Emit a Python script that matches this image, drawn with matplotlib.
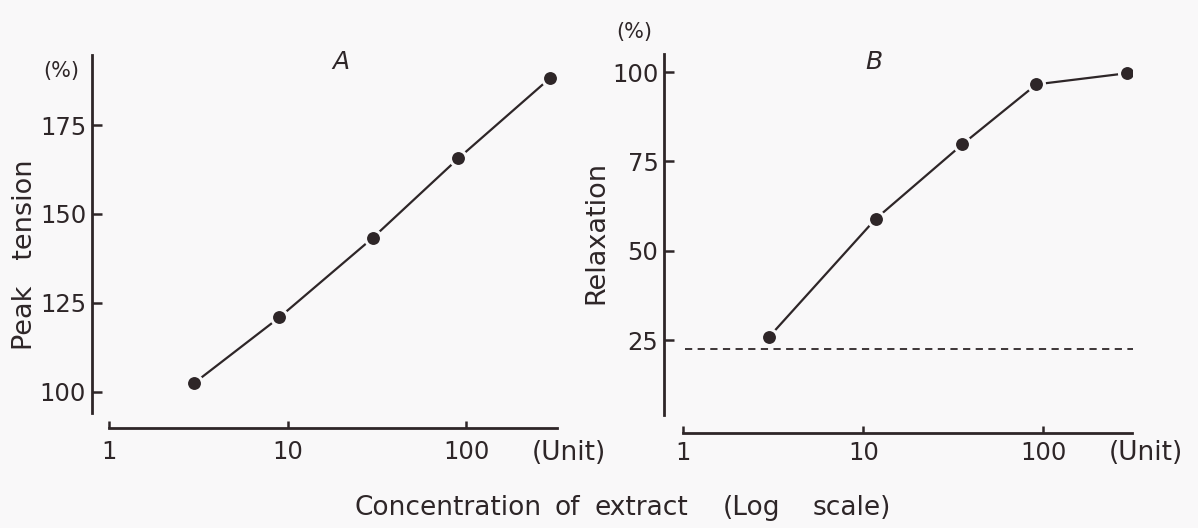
import matplotlib
matplotlib.use("Agg")
import matplotlib.pyplot as plt

# Panel A: peak tension vs. extract concentration
conc_a = [3, 9, 30, 90, 295]
tension = [102.4, 120.9, 143.3, 165.6, 188.3]
ticks_a = [100, 125, 150, 175]

# Panel B: relaxation vs. extract concentration
conc_b = [3, 11.7, 35.5, 91.5, 290]
relax = [25.9, 58.9, 79.8, 96.6, 99.7]
ticks_b = [25, 50, 75, 100]
baseline_b = 22.5

xticks = [1, 10, 100]
xticklabels = ["1", "10", "100"]
xlabel_words = ["Concentration", "of", "extract", "(Log", "scale)"]
xlabel_pos = [355, 554, 594, 723, 813]

ink = "#2e2628"
paper = "#f9f8f9"
plt.rcParams["font.family"] = ["DejaVu Sans"]

W, H = 1198, 528
fig = plt.figure(figsize=(W / 100, H / 100), dpi=100, facecolor=paper)


def px_axes(x0, x1, y0, y1):
    # axes from pixel box (top-left origin)
    return fig.add_axes([x0 / W, (H - y1) / H, (x1 - x0) / W, (y1 - y0) / H])


def ftext(x, y, s, **kw):
    kw.setdefault("color", ink)
    return fig.text(x / W, 1 - y / H, s, **kw)


def style(ax, left_off, bottom_off, ylim, xlim, yticks, xpad):
    ax.set_facecolor(paper)
    ax.set_xscale("log")
    ax.set_xlim(*xlim)
    ax.set_ylim(*ylim)
    for s in ("top", "right"):
        ax.spines[s].set_visible(False)
    ax.spines["left"].set_position(("outward", left_off * 0.72))
    ax.spines["bottom"].set_position(("outward", bottom_off * 0.72))
    for s in ("left", "bottom"):
        ax.spines[s].set_linewidth(2.0)
        ax.spines[s].set_color(ink)
    ax.set_xticks(xticks)
    ax.set_xticklabels(xticklabels)
    ax.xaxis.set_minor_locator(matplotlib.ticker.NullLocator())
    ax.set_yticks(yticks)
    ax.tick_params(axis="y", direction="in", length=7, width=1.8, color=ink,
                   labelsize=17.5, labelcolor=ink, pad=4)
    ax.tick_params(axis="x", direction="in", length=5, width=1.8, color=ink,
                   labelsize=17.5, labelcolor=ink, pad=xpad)


line_kw = dict(color=ink, lw=1.6, marker="o", ms=11.5, mfc=ink,
               mec=paper, mew=2.2, solid_capstyle="butt")

# A
axA = px_axes(108.7, 557, 55, 412.7)
style(axA, 17, 15, (94.1, 194.7), (1, 321), ticks_a, 9)
axA.plot(conc_a, tension, **line_kw)
ftext(25, 255, "Peak   tension", fontsize=19.5, rotation=90, ha="center", va="center")
ftext(61, 71, "(%)", fontsize=15, ha="center", va="center")
ftext(341, 62, "A", fontsize=18, style="italic", ha="center", va="center")
ftext(569, 460, "(Unit)", fontsize=19, ha="center", va="baseline")

# B
axB = px_axes(683.3, 1131.8, 54, 415)
style(axB, 19.3, 17.7, (4.0, 105.1), (1, 310), ticks_b, 6)
axB.hlines(baseline_b, 1.02, 314, colors=ink, linestyles=(0, (4, 3)), lw=1.3, clip_on=False)
axB.plot(conc_b, relax, **line_kw)
ftext(596, 233, "Relaxation", fontsize=19.5, rotation=90, ha="center", va="center")
ftext(634, 32, "(%)", fontsize=15, ha="center", va="center")
ftext(874, 62, "B", fontsize=18, style="italic", ha="center", va="center")
ftext(1146, 460, "(Unit)", fontsize=19, ha="center", va="baseline")

for word, x in zip(xlabel_words, xlabel_pos):
    ftext(x, 515, word, fontsize=19, ha="left", va="baseline")

fig.savefig("out.png", dpi=100, facecolor=paper)
